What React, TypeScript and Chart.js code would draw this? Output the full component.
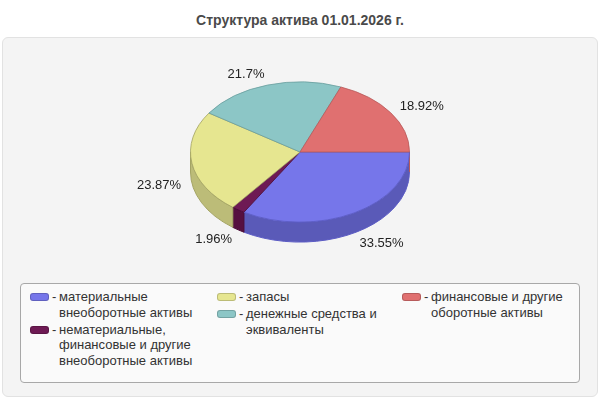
import React, { useEffect, useRef } from 'react';
import { Chart, ChartConfiguration, registerables } from 'chart.js';

Chart.register(...registerables);

const assetLabels = [
  'материальные внеоборотные активы',
  'нематериальные, финансовые и другие внеоборотные активы',
  'запасы',
  'денежные средства и эквиваленты',
  'финансовые и другие оборотные активы',
];

const assetShares = [33.55, 1.96, 23.87, 21.7, 18.92];

const topColors = ['#7676ea', '#6e1a54', '#e6e690', '#8cc6c6', '#e07070'];
const sideColors = ['#5a5ab8', '#561040', '#bcbc78', '#6ea0a0', '#b45858'];
const edgeColors = ['#5c5cc4', '#4a0c38', '#a4a464', '#6a9e9e', '#b85a5a'];

// squash factor and thickness of the fake 3D pie
const TILT = 0.64;
const DEPTH = 20;
const LABEL_RX = 1.1;
const LABEL_RY = 0.745;

const fontFamily = '"Liberation Sans", Arial, sans-serif';

const pie3d = {
  id: 'pie3d',
  beforeDatasetsDraw(chart: any) {
    const arcs = chart.getDatasetMeta(0).data as any[];
    if (!arcs.length) return;
    const ctx: CanvasRenderingContext2D = chart.ctx;
    const { x: cx, y: cy, outerRadius: r } = arcs[0].getProps(['x', 'y', 'outerRadius'], true);
    const ry = r * TILT;
    ctx.save();
    arcs.forEach((arc, i) => {
      const { startAngle, endAngle } = arc.getProps(['startAngle', 'endAngle'], true);
      for (let k = -1; k <= 1; k++) {
        const a1 = Math.max(startAngle, k * 2 * Math.PI);
        const a2 = Math.min(endAngle, k * 2 * Math.PI + Math.PI);
        if (a2 <= a1) continue;
        ctx.beginPath();
        ctx.ellipse(cx, cy, r, ry, 0, a1, a2);
        ctx.ellipse(cx, cy + DEPTH, r, ry, 0, a2, a1, true);
        ctx.closePath();
        ctx.fillStyle = sideColors[i];
        ctx.fill();
        ctx.strokeStyle = edgeColors[i];
        ctx.lineWidth = 1;
        ctx.stroke();
      }
    });
    // the library draws the top face inside this squashed transform
    ctx.translate(0, cy);
    ctx.scale(1, TILT);
    ctx.translate(0, -cy);
  },
  afterDatasetsDraw(chart: any) {
    const arcs = chart.getDatasetMeta(0).data as any[];
    if (!arcs.length) return;
    const ctx: CanvasRenderingContext2D = chart.ctx;
    ctx.restore();
    ctx.save();
    ctx.font = `13px ${fontFamily}`;
    ctx.fillStyle = '#222';
    ctx.textBaseline = 'middle';
    arcs.forEach((arc, i) => {
      const { x, y, startAngle, endAngle, outerRadius } = arc.getProps(
        ['x', 'y', 'startAngle', 'endAngle', 'outerRadius'],
        true
      );
      const mid = (startAngle + endAngle) / 2;
      const c = Math.cos(mid);
      const s = Math.sin(mid);
      ctx.textAlign = c >= 0 ? 'left' : 'right';
      ctx.fillText(
        `${assetShares[i]}%`,
        x + outerRadius * LABEL_RX * c,
        y + outerRadius * LABEL_RY * s + (s > 0 ? DEPTH : 0)
      );
    });
    ctx.restore();
  },
};

const LegendItem: React.FC<{ index: number }> = ({ index }) => (
  <div style={{ display: 'flex', alignItems: 'flex-start', marginBottom: 1.5 }}>
    <span
      style={{
        width: 19,
        height: 8,
        marginTop: 4,
        borderRadius: 3,
        boxSizing: 'border-box',
        border: '1px solid rgba(0,0,0,0.18)',
        background: topColors[index],
        flex: 'none',
      }}
    />
    <span style={{ marginLeft: 3, width: 7, flex: 'none' }}>-</span>
    <span style={{ width: 148 }}>{assetLabels[index]}</span>
  </div>
);

export default function App() {
  const canvasRef = useRef<HTMLCanvasElement | null>(null);
  const chartRef = useRef<Chart<'pie'> | null>(null);

  useEffect(() => {
    if (!canvasRef.current) return;
    const config: ChartConfiguration<'pie'> = {
      type: 'pie',
      data: {
        labels: assetLabels,
        datasets: [
          {
            data: assetShares,
            backgroundColor: topColors,
            borderColor: edgeColors,
            borderWidth: 1,
            hoverOffset: 0,
            clip: false as any,
          },
        ],
      },
      options: {
        animation: false,
        responsive: true,
        maintainAspectRatio: false,
        rotation: 90,
        layout: { padding: { top: 10, bottom: 10, left: 0, right: 0 } },
        events: [],
        plugins: {
          legend: { display: false },
          tooltip: { enabled: false },
        },
      },
      plugins: [pie3d],
    };
    chartRef.current = new Chart(canvasRef.current, config);
    return () => {
      chartRef.current?.destroy();
    };
  }, []);

  const columns = [0, 1, 2].map((col) =>
    assetLabels.map((_, i) => i).filter((i) => Math.floor(i / 2) === col)
  );
  const columnLeft = [9, 196, 381];

  return (
    <div
      style={{
        position: 'fixed',
        left: 0,
        top: 0,
        width: 600,
        height: 400,
        background: '#fff',
        fontFamily,
        overflow: 'hidden',
      }}
    >
      <div
        style={{
          position: 'absolute',
          top: 12,
          left: 0,
          width: 600,
          textAlign: 'center',
          fontWeight: 'bold',
          fontSize: 14,
          color: '#4a4a4a',
        }}
      >
        Структура актива 01.01.2026 г.
      </div>
      <div
        style={{
          position: 'absolute',
          left: 2,
          top: 37,
          width: 594,
          height: 358,
          background: '#f4f4f4',
          border: '1px solid #e2e2e2',
          borderRadius: 6,
        }}
      />
      <div style={{ position: 'absolute', left: 0, top: 32, width: 600, height: 240 }}>
        <canvas ref={canvasRef} role="img" aria-label="Структура актива 01.01.2026 г." />
      </div>
      <div
        style={{
          position: 'absolute',
          left: 20,
          top: 283,
          width: 558,
          height: 98,
          background: '#fafafa',
          border: '1px solid #a8a8a8',
          borderRadius: 4,
          fontSize: 13,
          lineHeight: '15.5px',
          color: '#333',
        }}
      >
        {columns.map((items, col) => (
          <div key={col} style={{ position: 'absolute', left: columnLeft[col], top: 5 }}>
            {items.map((i) => (
              <LegendItem key={i} index={i} />
            ))}
          </div>
        ))}
      </div>
    </div>
  );
}
